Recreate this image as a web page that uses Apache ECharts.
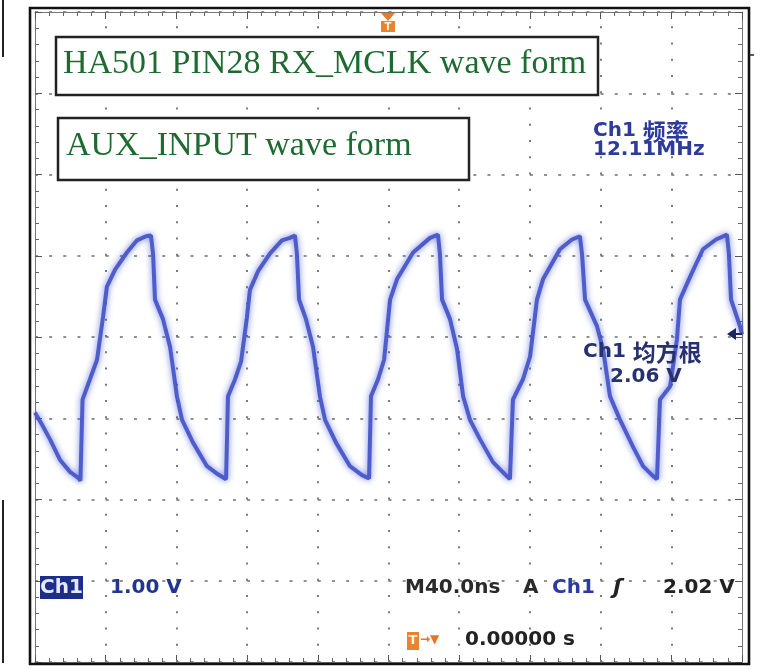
<!DOCTYPE html>
<html><head><meta charset="utf-8">
<script src="https://cdn.jsdelivr.net/npm/echarts@6/dist/echarts.min.js"></script>
<style>html,body{margin:0;padding:0;background:#fff}#c{width:766px;height:669px}</style>
</head><body><div id="c"></div>
<script>
// Ch1 trace: time (ns, trigger at 0) and voltage (V)
const timeNs = [-200, -196.0, -191.5, -185.9, -180.2, -175.7, -174.3,
 -173.1, -168.9, -164.9, -161.5, -159.3, -154.7, -148.0, -142.3, -137.2, -134.4,
 -133.2, -132.1, -127.6, -123.6, -119.7, -116.8, -110.6, -102.7, -96.5, -91.9,
 -90.8, -86.8, -83.4, -80.1, -78.4, -73.8, -67.0, -60.3, -55.7, -52.9,
 -51.8, -50.6, -46.7, -42.7, -38.8, -35.9, -29.7, -21.8, -15.0, -11.0,
 -9.9, -5.9, -2.5, 0.9, 4.8, 13.9, 23.5, 28.0,
 29.1, 30.3, 34.8, 38.8, 42.2, 46.1, 51.8, 59.1, 65.9, 68.7,
 70.4, 76.1, 80.1, 84.0, 87.4, 97.0, 103.8, 108.3,
 109.5, 111.2, 118.0, 121.4, 125.3, 131.0, 138.3, 144.0, 149.1, 151.9,
 153.6, 159.3, 163.2, 164.9, 170.6, 177.9, 185.3, 191.5,
 192.6, 193.8, 198.9, 200.0];
const ch1Volts = [1.07, 0.92, 0.74, 0.49, 0.34, 0.27, 0.23,
 1.23, 1.48, 1.72, 2.25, 2.62, 2.83, 3.04, 3.19, 3.24, 3.25,
 3.02, 2.46, 2.22, 1.88, 1.27, 0.98, 0.70, 0.41, 0.31, 0.25,
 1.27, 1.48, 1.70, 2.24, 2.58, 2.81, 3.03, 3.19, 3.22, 3.25,
 3.02, 2.46, 2.22, 1.88, 1.27, 0.98, 0.70, 0.41, 0.30, 0.26,
 1.27, 1.48, 1.72, 2.46, 2.71, 3.04, 3.22, 3.26,
 3.02, 2.46, 2.22, 1.85, 1.27, 0.98, 0.74, 0.46, 0.31, 0.25,
 1.23, 1.48, 1.76, 2.46, 2.71, 3.08, 3.20, 3.24,
 3.02, 2.46, 2.13, 1.85, 1.27, 0.98, 0.65, 0.41, 0.30, 0.25,
 1.23, 1.39, 1.97, 2.46, 2.74, 3.08, 3.20, 3.26,
 3.02, 2.46, 2.13, 2.03];
// axis scales: 40 ns/div horizontally, 1 V/div vertically
const xScale = {min: -200, max: 200, interval: 40};
const yScale = {min: -2, max: 6, interval: 1};
// vertical graticule positions (ns)
const gridTimes = [-160, -120, -80, -40, 0, 40, 80, 120, 160];
// texts
const note1 = 'HA501 PIN28 RX_MCLK wave form';
const note2 = 'AUX_INPUT wave form';
const freqLabel = ['Ch1 ', '频率'], freqValue = '12.11MHz';
const rmsLabel = ['Ch1 ', '均方根'], rmsValue = '2.06 V';
const chName = 'Ch1', chScale = '1.00 V';
const timeBase = 'M40.0ns', trigMode = 'A', trigSrc = 'Ch1', trigSlope = 'ʃ', trigLevel = '2.02 V';
const trigPos = '0.00000 s';

const chart = echarts.init(document.getElementById('c'), null, {renderer: 'canvas'});
const SANS = '"DejaVu Sans", "Noto Sans CJK SC", sans-serif';
const CJK = '"Noto Sans CJK SC", sans-serif';
const SERIF = '"Liberation Serif", "DejaVu Serif", serif';

function xAx(pos) {
  return {type: 'value', position: pos, min: xScale.min, max: xScale.max, interval: xScale.interval,
    axisLine: {show: true, onZero: false, lineStyle: {color: '#777', width: 1}},
    axisTick: {show: true, inside: true, length: 7, lineStyle: {color: '#555', width: 1}},
    minorTick: {show: true, splitNumber: 5, length: 4, lineStyle: {color: '#666', width: 1}},
    axisLabel: {show: false},
    splitLine: {show: false}};
}
function yAx(pos) {
  return {type: 'value', position: pos, min: yScale.min, max: yScale.max, interval: yScale.interval,
    axisLine: {show: true, onZero: false, lineStyle: {color: '#777', width: 1}},
    axisTick: {show: true, inside: true, length: 7, lineStyle: {color: '#555', width: 1}},
    minorTick: {show: true, splitNumber: 5, length: 4, lineStyle: {color: '#666', width: 1}},
    axisLabel: {show: false},
    splitLine: {show: pos === 'left', lineStyle: {color: '#6e6e6e', width: 1.5, type: [3, 11.14]}}};
}
function txt(x, y, text, font, fill, align, extra) {
  return Object.assign({type: 'text', x: x, y: y, z: 120,
    style: {text: text, font: font, fill: fill, align: align || 'left', verticalAlign: 'middle',
      textAlign: align || 'left', textVerticalAlign: 'middle'}}, extra || {});
}

const option = {
  animation: false,
  backgroundColor: '#ffffff',
  grid: {left: 35, top: 12, width: 707, height: 650, containLabel: false},
  xAxis: [xAx('bottom'), xAx('top')],
  yAxis: [yAx('left'), yAx('right')],
  series: [{
    type: 'line', xAxisIndex: 0, yAxisIndex: 0, z: 1, data: [], silent: true,
    markLine: {silent: true, symbol: ['none', 'none'], label: {show: false}, animation: false,
      lineStyle: {color: '#7a7a7a', width: 2, type: [2, 14.25]},
      emphasis: {disabled: true},
      data: gridTimes.map(t => ({xAxis: t}))}
  }, {
    type: 'line', xAxisIndex: 0, yAxisIndex: 0, z: 5,
    data: timeNs.map((t, i) => [t, ch1Volts[i]]),
    showSymbol: false, symbol: 'none', smooth: false,
    lineStyle: {color: '#4454c8', width: 4, opacity: 0.92, shadowBlur: 6, shadowColor: 'rgba(60,80,210,0.8)'}
  }],
  graphic: [
    // outer frame
    {type: 'rect', z: 110, shape: {x: 30, y: 8, width: 719, height: 656}, style: {fill: 'none', stroke: '#111', lineWidth: 2.6}},
    {type: 'line', z: 110, shape: {x1: 749, y1: 55, x2: 754, y2: 55}, style: {stroke: '#222', lineWidth: 1.5}},
    {type: 'line', z: 110, shape: {x1: 3, y1: 0, x2: 3, y2: 57}, style: {stroke: '#222', lineWidth: 2}},
    {type: 'line', z: 110, shape: {x1: 3, y1: 500, x2: 3, y2: 663}, style: {stroke: '#222', lineWidth: 2}},
    // note boxes
    {type: 'rect', z: 110, shape: {x: 56, y: 37, width: 542, height: 58}, style: {fill: '#fff', stroke: '#222', lineWidth: 2.5}},
    txt(63, 64, note1, '34px ' + SERIF, '#1d6b30'),
    {type: 'rect', z: 110, shape: {x: 58, y: 118, width: 411, height: 62}, style: {fill: '#fff', stroke: '#222', lineWidth: 2.5}},
    txt(66, 146, note2, '34px ' + SERIF, '#1d6b30'),
    // measurements
    {type: 'text', x: 593, y: 131, z: 120, style: {text: '{a|' + freqLabel[0] + '}{b|' + freqLabel[1] + '}', verticalAlign: 'middle', textVerticalAlign: 'middle',
      rich: {a: {font: 'bold 20px ' + SANS, fill: '#2d3b9c', color: '#2d3b9c'}, b: {font: 'bold 23px ' + CJK, fill: '#2d3b9c', color: '#2d3b9c'}}}},
    txt(593, 150, freqValue, 'bold 20px ' + SANS, '#2d3b9c'),
    {type: 'text', x: 583, y: 352, z: 120, style: {text: '{a|' + rmsLabel[0] + '}{b|' + rmsLabel[1] + '}', verticalAlign: 'middle', textVerticalAlign: 'middle',
      rich: {a: {font: 'bold 20px ' + SANS, fill: '#283170', color: '#283170'}, b: {font: 'bold 23px ' + CJK, fill: '#283170', color: '#283170'}}}},
    txt(610, 377, rmsValue, 'bold 20px ' + SANS, '#283170'),
    // trigger level marker on right
    {type: 'polygon', z: 115, shape: {points: [[727, 334], [736, 328], [736, 340]]}, style: {fill: '#1d2560'}},
    {type: 'line', z: 115, shape: {x1: 734, y1: 334, x2: 742, y2: 334}, style: {stroke: '#1d2560', lineWidth: 2}},
    // trigger position marker on top
    {type: 'polygon', z: 115, shape: {points: [[381, 13], [395, 13], [388, 21]]}, style: {fill: '#e87b2a'}},
    {type: 'rect', z: 115, shape: {x: 381, y: 21, width: 14, height: 11}, style: {fill: '#e8832f'}},
    txt(388, 27, 'T', 'bold 10px ' + SANS, '#fff3e0', 'center'),
    // bottom readouts
    {type: 'rect', z: 115, shape: {x: 40, y: 576, width: 43, height: 23}, style: {fill: '#1c2d8a'}},
    txt(61.5, 588, chName, 'bold 20px ' + SANS, '#e6e9ff', 'center'),
    txt(110, 588, chScale, 'bold 20px ' + SANS, '#233590'),
    txt(405, 588, timeBase, 'bold 20px ' + SANS, '#2a2a2a'),
    txt(523, 588, trigMode, 'bold 20px ' + SANS, '#2a2a2a'),
    txt(552, 588, trigSrc, 'bold 20px ' + SANS, '#2b3aa6'),
    txt(613, 588, trigSlope, 'bold italic 22px ' + SANS, '#222'),
    txt(663, 588, trigLevel, 'bold 20px ' + SANS, '#222'),
    {type: 'rect', z: 115, shape: {x: 407, y: 632, width: 12, height: 18}, style: {fill: '#e8832f'}},
    txt(413, 641, 'T', 'bold 13px ' + SANS, '#fff3e0', 'center'),
    txt(420, 640, '→▼', 'bold 12px ' + SANS, '#e8732a'),
    txt(465, 640, trigPos, 'bold 20px ' + SANS, '#222')
  ]
};
chart.setOption(option);
</script>
</body></html>
